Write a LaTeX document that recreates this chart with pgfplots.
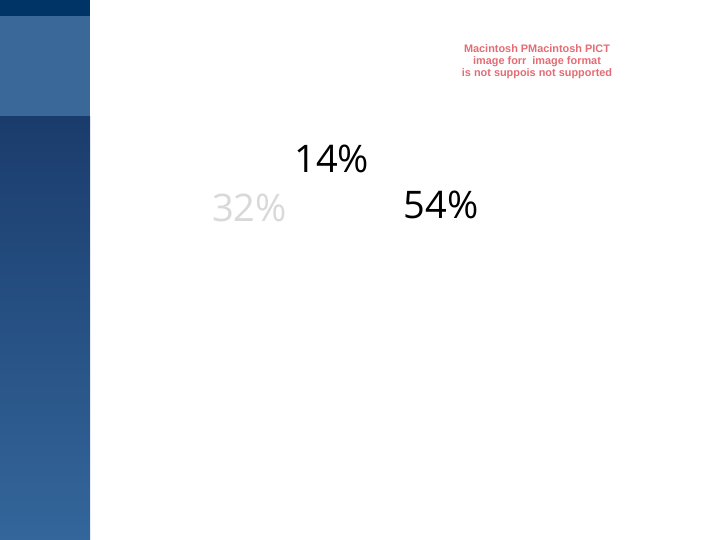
\documentclass[border=0pt]{standalone}
\usepackage{pgfplots}
\pgfplotsset{compat=1.18}
\usepackage{fontspec}
\setmainfont{Open Sans}
\newfontfamily\arial{Liberation Sans}

\definecolor{barTop}{HTML}{003366}
\definecolor{barBand}{HTML}{3A6898}
\definecolor{barDark}{HTML}{1A3C6C}
\definecolor{barLight}{HTML}{34669B}
\definecolor{pictRed}{HTML}{E46C74}
\definecolor{lightGray}{HTML}{D9D9D9}

\begin{document}
\begin{tikzpicture}[x=1pt,y=1pt]
% slide background and left bar
\fill[white] (0,0) rectangle (720,540);
\fill[barTop] (0,524) rectangle (90,540);
\fill[barBand] (0,423) rectangle (90,524);
\shade[top color=barDark, bottom color=barLight] (0,0) rectangle (90,423);

% placeholder of the missing picture
\begin{scope}[every node/.style={anchor=base, text=pictRed,
    font=\arial\bfseries\fontsize{10.9}{12}\selectfont, inner sep=0pt}]
  \node at (537,487.3) {Macintosh PMacintosh PICT};
  \node at (537,475.0) {image forr\ \ image format};
  \node at (537,463.3) {is not suppois not supported};
\end{scope}

\begin{axis}[
  at={(0,0)}, anchor=south west,
  scale only axis, width=720pt, height=540pt,
  xmin=0, xmax=720, ymin=0, ymax=540,
  y dir=reverse,
  hide axis, clip=false,
  point meta=explicit,
  /pgf/number format/assume math mode=true,
  nodes near coords={\pgfmathprintnumber{\pgfplotspointmeta}\%},
  nodes near coords style={anchor=base, inner sep=0pt,
    font=\fontsize{38}{42}\selectfont},
]
  \addplot[only marks, mark=none, nodes near coords style={text=black}]
    coordinates {(331.7,172.7) [14] (441,219) [54]};
  \addplot[only marks, mark=none, nodes near coords style={text=lightGray}]
    coordinates {(249.5,221.7) [32]};
\end{axis}
\end{tikzpicture}
\end{document}
